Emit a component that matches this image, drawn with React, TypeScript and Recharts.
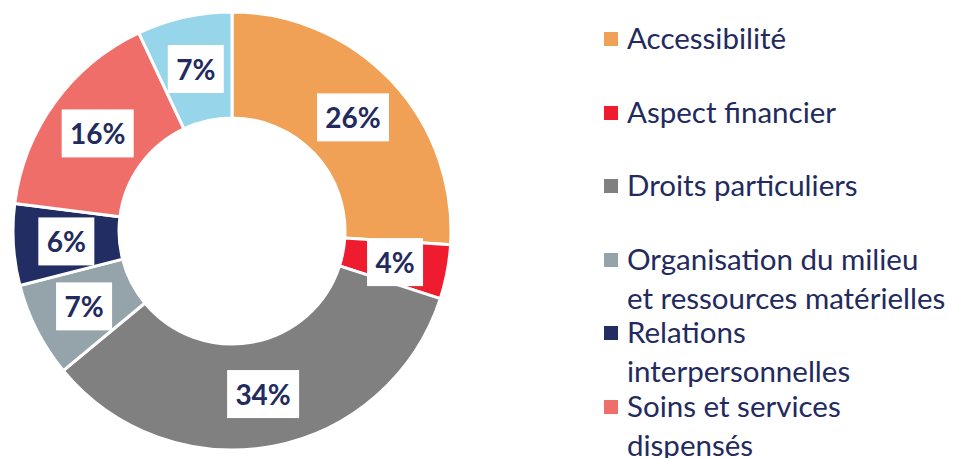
import { PieChart, Pie, Cell, Legend } from 'recharts';

// Répartition des motifs de plainte (%)
const categories = [
  'Accessibilité',
  'Aspect financier',
  'Droits particuliers',
  'Organisation du milieu et ressources matérielles',
  'Relations interpersonnelles',
  'Soins et services dispensés',
  'Autre',
];
const percents = [26, 4, 34, 7, 6, 16, 7];
const colors = ['#F0A155', '#EE1C2E', '#808080', '#95A3AB', '#222D63', '#F06E69', '#97D5EB'];
// legend text as it wraps in the original; only the first six entries are visible
const legendLabels = [
  'Accessibilité',
  'Aspect financier',
  'Droits particuliers',
  'Organisation du milieu\net ressources matérielles',
  'Relations\ninterpersonnelles',
  'Soins et services\ndispensés',
];

const NAVY = '#222A5E';
const FONT = 'Lato, "Open Sans", sans-serif';

const data = categories.map((name, i) => ({ name, value: percents[i] }));

const RADIAN = Math.PI / 180;

const renderLabel = (props: any) => {
  const { cx, cy, midAngle, innerRadius, outerRadius, value } = props;
  const r = (innerRadius + outerRadius) / 2;
  const x = cx + r * Math.cos(-midAngle * RADIAN);
  const y = cy + r * Math.sin(-midAngle * RADIAN);
  const text = `${value}%`;
  const w = text.length > 2 ? 72 : 56;
  const h = 48;
  return (
    <g>
      <rect x={x - w / 2} y={y - h / 2} width={w} height={h} fill="#fff" />
      <text
        x={x}
        y={y}
        textAnchor="middle"
        dominantBaseline="central"
        fill={NAVY}
        fontFamily={FONT}
        fontWeight={700}
        fontSize={28}
      >
        {text}
      </text>
    </g>
  );
};

const renderLegend = () => (
  <div style={{ fontFamily: FONT, color: NAVY, fontSize: 29.5, width: 345 }}>
    {legendLabels.map((label, i) => (
      <div key={label} style={{ height: 73.6, position: 'relative', lineHeight: '39px' }}>
        <span
          style={{
            position: 'absolute',
            left: 0,
            top: 14,
            width: 14,
            height: 14,
            background: colors[i],
          }}
        />
        <div style={{ marginLeft: 23, whiteSpace: 'pre' }}>{label}</div>
      </div>
    ))}
  </div>
);

export default function App() {
  return (
    <div
      style={{
        position: 'absolute',
        left: 0,
        top: 0,
        width: 955,
        height: 458,
        overflow: 'hidden',
        background: '#fff',
      }}
    >
      <PieChart width={955} height={458} margin={{ top: 0, right: 0, bottom: 0, left: 0 }}>
        <Pie
          data={data}
          dataKey="value"
          nameKey="name"
          cx={232}
          cy={231}
          innerRadius={113}
          outerRadius={219}
          startAngle={90}
          endAngle={-270}
          stroke="#fff"
          strokeWidth={3}
          label={renderLabel}
          labelLine={false}
          isAnimationActive={false}
        >
          {data.map((d, i) => (
            <Cell key={`cell-${i}`} fill={colors[i]} />
          ))}
        </Pie>
        <Legend
          content={renderLegend}
          layout="vertical"
          verticalAlign="top"
          align="right"
          wrapperStyle={{ position: 'absolute', left: 604, top: 18, width: 350 }}
        />
      </PieChart>
    </div>
  );
}
